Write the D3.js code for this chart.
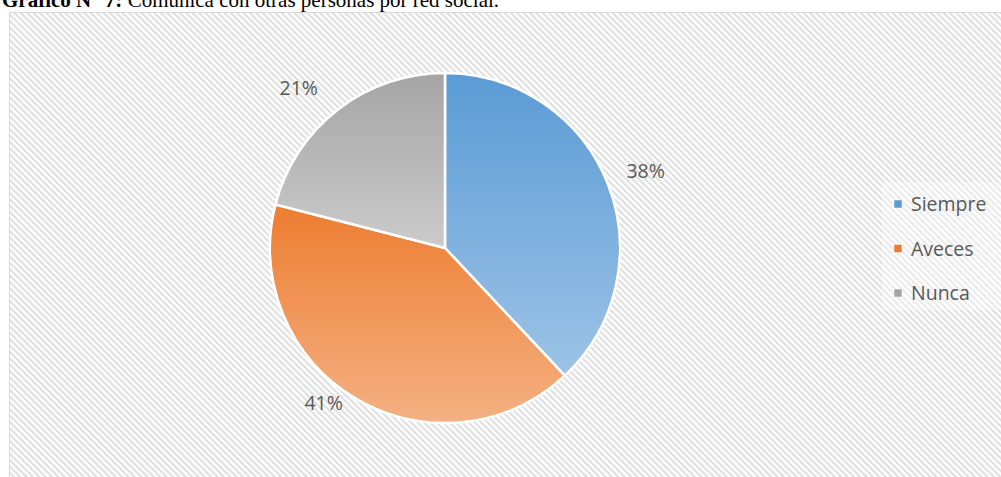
<!DOCTYPE html>
<html>
<head>
<meta charset="utf-8">
<script src="https://cdn.jsdelivr.net/npm/d3@7"></script>
<style>
  body { margin: 0; background: #fff; }
  svg { display: block; }
</style>
</head>
<body>
<div id="chart"></div>
<script>
var svgWidth = 1001;
var svgHeight = 477;

// data
var categories = ["Siempre", "Aveces", "Nunca"];
var values = [38, 41, 21];
var labels = ["38%", "41%", "21%"];

var colorsTop = ["#5b9bd5", "#ed7d31", "#a5a5a5"];
var colorsBottom = ["#9dc3e6", "#f4b183", "#cbcbcb"];

var center = { x: 445, y: 248 };
var radius = 175;

var svg = d3.select("#chart")
  .append("svg")
  .attr("width", svgWidth)
  .attr("height", svgHeight);

var defs = svg.append("defs");

// diagonal hatch background
var pattern = defs.append("pattern")
  .attr("id", "hatch")
  .attr("patternUnits", "userSpaceOnUse")
  .attr("width", 4.5)
  .attr("height", 4.5)
  .attr("patternTransform", "rotate(-45)");
pattern.append("rect")
  .attr("width", 4.5).attr("height", 4.5).attr("fill", "#ffffff");
pattern.append("rect")
  .attr("width", 2.2).attr("height", 4.5).attr("fill", "#e0e0e0");

// gradient per slice
categories.forEach(function(c, i) {
  var g = defs.append("linearGradient")
    .attr("id", "grad" + i)
    .attr("x1", 0).attr("y1", 0).attr("x2", 0).attr("y2", 1);
  g.append("stop").attr("offset", "0%").attr("stop-color", colorsTop[i]);
  g.append("stop").attr("offset", "100%").attr("stop-color", colorsBottom[i]);
});

// title (cut at top, as in the source picture)
var title = svg.append("text")
  .attr("x", 2)
  .attr("y", 6.5)
  .style("font-family", "'Liberation Serif', 'Times New Roman', serif")
  .style("font-size", "21px")
  .attr("fill", "#000");
title.append("tspan").style("font-weight", "bold").text("Gráfico N° 7:");
title.append("tspan").text(" Comunica con otras personas por red social.");

// chart area
svg.append("rect")
  .attr("x", 9.5)
  .attr("y", 12.5)
  .attr("width", 1000)
  .attr("height", 480)
  .attr("fill", "url(#hatch)")
  .attr("stroke", "#d9d9d9")
  .attr("stroke-width", 1);

// pie
var pie = d3.pie().sort(null).value(d => d);
var arc = d3.arc().innerRadius(0).outerRadius(radius);

var pieGroup = svg.append("g")
  .attr("transform", `translate(${center.x}, ${center.y})`);

var arcs = pie(values);

pieGroup.selectAll("path")
  .data(arcs)
  .enter()
  .append("path")
  .attr("d", arc)
  .attr("fill", (d, i) => `url(#grad${i})`)
  .attr("stroke", "#ffffff")
  .attr("stroke-width", 2.5)
  .attr("stroke-linejoin", "round");

// percent labels, outside end (nudged like the excel layout)
var labelRadius = [215, 197, 217];
var labelShift = [0.01, 0.13, -0.08];
pieGroup.selectAll("text.pct")
  .data(arcs)
  .enter()
  .append("text")
  .attr("class", "pct")
  .attr("x", (d, i) => labelRadius[i] * Math.sin((d.startAngle + d.endAngle) / 2 + labelShift[i]))
  .attr("y", (d, i) => -labelRadius[i] * Math.cos((d.startAngle + d.endAngle) / 2 + labelShift[i]))
  .attr("dy", "0.36em")
  .attr("text-anchor", "middle")
  .style("font-family", "'Open Sans', sans-serif")
  .style("font-size", "19.5px")
  .attr("fill", "#595959")
  .text((d, i) => labels[i]);

// legend
var legend = svg.append("g")
  .attr("transform", "translate(894, 200)");

legend.append("rect")
  .attr("x", -12)
  .attr("y", -18)
  .attr("width", 120)
  .attr("height", 128)
  .attr("fill", "#ffffff")
  .attr("opacity", 0.35);

var legendItems = legend.selectAll("g.item")
  .data(categories)
  .enter()
  .append("g")
  .attr("class", "item")
  .attr("transform", (d, i) => `translate(0, ${i * 44.5})`);

legendItems.append("rect")
  .attr("width", 8)
  .attr("height", 8)
  .attr("fill", (d, i) => colorsTop[i])
  .attr("stroke", "#ffffff")
  .attr("stroke-width", 0.5);

legendItems.append("text")
  .attr("x", 17)
  .attr("y", 11)
  .style("font-family", "'Open Sans', sans-serif")
  .style("font-size", "19.5px")
  .attr("fill", "#595959")
  .text(d => d);
</script>
</body>
</html>
